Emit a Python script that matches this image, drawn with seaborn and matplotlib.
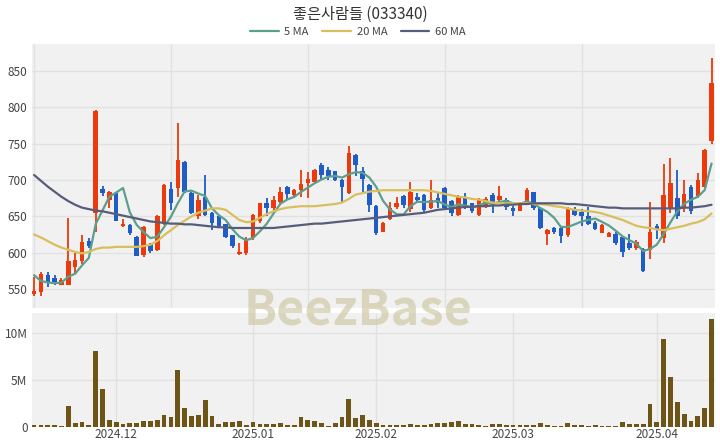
import numpy as np
import pandas as pd
import matplotlib
matplotlib.use('Agg')
import matplotlib.pyplot as plt
import seaborn as sns

# daily candles, 2024-11-14 .. 2025-04-11 (trading days)
opens = [543, 546, 569, 565, 556, 556, 580, 588, 616, 654,
         688, 673, 682, 637, 638, 622, 597, 612, 604, 640,
         688, 689, 725, 682, 650, 677, 654, 650, 639, 624,
         598, 599, 620, 643, 668, 661, 670, 691, 680, 686,
         696, 698, 721, 714, 712, 700, 682, 735, 712, 693,
         664, 629, 647, 663, 678, 660, 677, 679, 661, 675,
         689, 671, 652, 676, 668, 652, 663, 679, 673, 673,
         662, 658, 668, 683, 661, 626, 634, 634, 624, 659,
         656, 650, 641, 627, 622, 626, 621, 614, 606, 605,
         604, 637, 620, 660, 675, 662, 691, 678, 690, 754]
highs = [567, 573, 574, 569, 565, 648, 600, 624, 620, 796,
         692, 685, 683, 646, 640, 623, 637, 614, 652, 694,
         698, 778, 726, 683, 680, 707, 656, 651, 640, 625,
         613, 622, 653, 669, 675, 678, 690, 692, 688, 714,
         711, 715, 723, 718, 713, 701, 747, 736, 718, 695,
         666, 642, 670, 676, 680, 698, 682, 681, 700, 682,
         690, 672, 680, 682, 669, 675, 676, 682, 692, 675,
         664, 670, 689, 684, 662, 632, 636, 636, 663, 663,
         660, 663, 644, 639, 629, 628, 623, 626, 617, 606,
         670, 640, 722, 730, 714, 700, 693, 710, 743, 868]
lows = [541, 540, 553, 555, 555, 555, 572, 585, 606, 629,
        678, 661, 643, 636, 624, 595, 594, 600, 602, 638,
        659, 677, 682, 653, 647, 650, 631, 635, 620, 606,
        597, 597, 618, 641, 650, 659, 666, 673, 675, 677,
        675, 696, 700, 700, 699, 670, 681, 705, 684, 656,
        624, 628, 645, 660, 661, 656, 668, 656, 660, 661,
        659, 650, 650, 660, 654, 651, 662, 654, 670, 659,
        650, 657, 666, 659, 632, 611, 626, 614, 622, 650,
        637, 638, 631, 627, 621, 610, 594, 604, 603, 574,
        591, 619, 614, 655, 646, 656, 653, 675, 688, 750]
closes = [547, 570, 558, 557, 562, 588, 590, 615, 609, 795,
          682, 684, 644, 640, 627, 596, 635, 602, 650, 693,
          668, 727, 684, 655, 673, 652, 641, 637, 622, 609,
          601, 617, 652, 668, 661, 672, 684, 681, 686, 695,
          702, 714, 707, 705, 700, 691, 737, 721, 702, 666,
          627, 641, 662, 668, 665, 684, 672, 659, 672, 668,
          661, 654, 678, 663, 657, 673, 674, 668, 678, 663,
          657, 669, 686, 661, 634, 631, 628, 623, 661, 652,
          650, 640, 632, 638, 627, 614, 601, 606, 615, 575,
          628, 631, 679, 696, 650, 681, 658, 700, 742, 833]
volume_m = [0.14, 0.14, 0.18, 0.14, 0.07, 2.25, 0.36, 0.5, 0.21, 8.14,
            4.0, 0.71, 0.5, 0.29, 0.43, 0.36, 0.61, 0.57, 0.71, 1.21,
            1.0, 6.1, 2.0, 1.1, 1.25, 2.82, 1.18, 0.29, 0.54, 0.5,
            0.61, 0.18, 0.5, 0.32, 0.29, 0.32, 0.43, 0.18, 0.14, 1.0,
            0.68, 0.57, 0.43, 0.1, 0.39, 1.0, 3.0, 0.89, 1.25, 0.7,
            0.43, 0.18, 0.18, 0.14, 0.14, 0.29, 0.21, 0.21, 0.29, 0.36,
            0.36, 0.5, 0.57, 0.25, 0.25, 0.21, 0.07, 0.32, 0.32, 0.21,
            0.18, 0.18, 0.21, 0.21, 0.36, 0.18, 0.07, 0.1, 0.43, 0.14,
            0.14, 0.1, 0.14, 0.07, 0.07, 0.07, 0.5, 0.32, 0.29, 0.29,
            2.43, 0.54, 9.43, 5.36, 2.6, 1.32, 0.64, 1.14, 1.96, 11.5]

# moving averages (they use history before the window)
ma5_head = [569, 561, 559, 558]
ma20 = [625, 621, 616, 611, 607, 604, 601, 599, 601, 605,
        607, 607, 608, 608, 608, 608, 609, 611, 616, 624,
        631, 638, 644, 650, 655, 658, 661, 661, 659, 652,
        645, 642, 643, 648, 653, 657, 660, 662, 663, 664,
        664, 664, 665, 666, 667, 669, 674, 680, 682, 684,
        685, 686, 686, 686, 686, 686, 686, 686, 685, 683,
        681, 679, 677, 676, 674, 673, 671, 669, 668, 668,
        668, 668, 668, 667, 667, 666, 664, 663, 661, 659,
        658, 657, 656, 654, 651, 648, 645, 641, 637, 635,
        634, 632, 631, 633, 635, 637, 640, 642, 646, 654]
ma60 = [707, 699, 691, 684, 677, 671, 666, 662, 660, 658,
        657, 655, 653, 651, 649, 647, 645, 643, 642, 641,
        640, 640, 639, 639, 638, 637, 636, 635, 635, 634,
        634, 634, 634, 634, 634, 634, 635, 636, 637, 638,
        639, 640, 640, 641, 642, 643, 644, 645, 646, 647,
        648, 649, 650, 651, 652, 653, 654, 655, 657, 659,
        660, 661, 662, 663, 663, 664, 664, 665, 665, 666,
        666, 667, 667, 668, 668, 668, 668, 668, 667, 667,
        666, 665, 664, 663, 662, 662, 661, 661, 661, 661,
        661, 661, 661, 661, 661, 662, 662, 663, 664, 666]

month_ticks = [12, 32, 50, 70, 91]
month_labels = ['2024.12', '2025.01', '2025.02', '2025.03', '2025.04']
price_vgrid = [0, 20, 40, 60, 80]
price_ticks = [550, 600, 650, 700, 750, 800, 850]
volume_ticks = [0, 5, 10]
volume_labels = ['0', '5M', '10M']

df = pd.DataFrame({'open': opens, 'high': highs, 'low': lows,
                   'close': closes, 'volume': volume_m})
df['idx'] = np.arange(len(df))
ma5 = df['close'].rolling(5).mean()
ma5.iloc[:4] = ma5_head
df['5 MA'] = ma5
df['20 MA'] = ma20
df['60 MA'] = ma60

sns.set_style('white', {'axes.facecolor': '#f1f1f1'})
plt.rcParams['font.family'] = ['Noto Sans CJK KR', 'DejaVu Sans']

UP = '#ec3a0c'
DOWN = '#1f5cc6'
VOL = '#6d5417'
GRID = '#e1e1e1'
TXT = '#444444'

fig = plt.figure(figsize=(7.2, 4.48), dpi=100)
ax = fig.add_axes([0.044, 0.3125, 0.949, 0.5895])
axv = fig.add_axes([0.044, 0.0475, 0.949, 0.254])

# price panel
for v in price_ticks:
    ax.axhline(v, color=GRID, lw=0.9, zorder=0)
for v in price_vgrid:
    ax.axvline(v, color=GRID, lw=0.9, zorder=0)

up = df['close'] >= df['open']
colors = np.where(up, UP, DOWN)
ax.vlines(df['idx'], df['low'], df['high'], colors=colors, lw=1.3, zorder=2)
body_lo = df[['open', 'close']].min(axis=1)
body_h = (df['close'] - df['open']).abs().clip(lower=1.5)
ax.bar(df['idx'], body_h, bottom=body_lo, width=0.66, color=colors,
       linewidth=0, zorder=3)

ma_colors = {'5 MA': '#5c9f8c', '20 MA': '#d8bf5c', '60 MA': '#575d79'}
for name, col in ma_colors.items():
    sns.lineplot(data=df, x='idx', y=name, ax=ax, color=col, lw=1.6,
                 label=name, zorder=4)

ax.set_xlim(-0.35, 99.5)
ax.set_ylim(523.8, 887.5)
ax.set_yticks(price_ticks)
ax.set_xticks([])
ax.set_xlabel('')
ax.set_ylabel('')
ax.tick_params(axis='y', length=0, pad=3, labelsize=8.5, labelcolor=TXT)
for s in ax.spines.values():
    s.set_visible(False)
ax.get_legend().remove()

# volume panel
for v in volume_ticks:
    axv.axhline(v, color=GRID, lw=0.9, zorder=0)
for v in month_ticks:
    axv.axvline(v, color=GRID, lw=0.9, zorder=0)
axv.bar(df['idx'], df['volume'], width=0.7, color=VOL, linewidth=0, zorder=2)
axv.set_xlim(-0.35, 99.5)
axv.set_ylim(0, 12.19)
axv.set_yticks(volume_ticks)
axv.set_yticklabels(volume_labels)
axv.set_xticks(month_ticks)
axv.set_xticklabels(month_labels)
axv.tick_params(length=0, pad=3, labelsize=8.5, labelcolor=TXT)
axv.tick_params(axis='x', pad=1)
for s in axv.spines.values():
    s.set_visible(False)

handles, labels = ax.get_legend_handles_labels()
fig.legend(handles, labels, loc='center', bbox_to_anchor=(0.497, 0.929),
           ncol=3, frameon=False, fontsize=8, handlelength=2.6,
           columnspacing=1.2, handletextpad=0.5, labelcolor=TXT)

fig.text(0.5, 0.968, '좋은사람들 (033340)', ha='center', va='center',
         fontsize=11, color='#333333')
fig.text(0.497, 0.308, 'BeezBase', ha='center', va='center', fontsize=35,
         fontweight='bold', color='#cdc5a0', alpha=0.65, zorder=10)

fig.savefig('out.png', dpi=100)
